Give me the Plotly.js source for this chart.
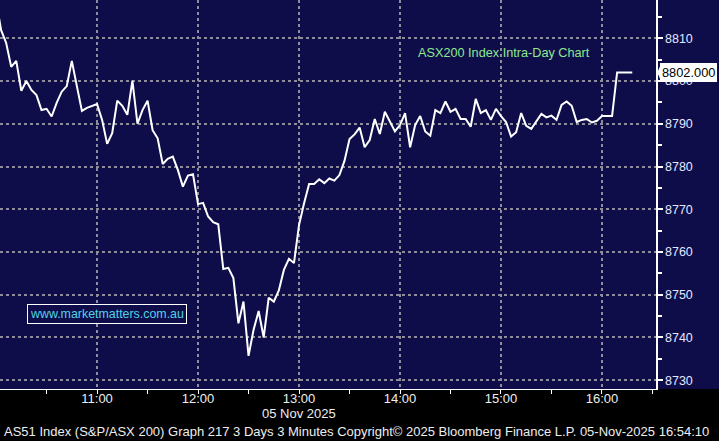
<!DOCTYPE html>
<html>
<head>
<meta charset="utf-8">
<script src="https://cdn.plot.ly/plotly-3.0.1.min.js"></script>
<style>html,body{margin:0;padding:0;background:#000;}#chart{width:719px;height:441px;}</style>
</head>
<body>
<div id="chart"></div>
<script>
// ASX200 3-minute intraday closes, 05 Nov 2025, starting 10:00
const startTime = '2025-11-05T10:00:00';
const stepMinutes = 3;
const closes = [
  8818.8, 8811.9, 8808.9, 8803.3, 8804.7, 8797.7, 8800.0, 8797.9, 8796.7, 8793.2,
  8793.5, 8791.7, 8794.9, 8797.5, 8798.8, 8804.7, 8798.8, 8793.0, 8793.7, 8794.2,
  8794.6, 8790.9, 8785.3, 8787.8, 8795.4, 8794.2, 8792.1, 8800.1, 8790.0, 8793.2,
  8795.4, 8788.5, 8786.6, 8780.6, 8781.8, 8782.3, 8779.2, 8775.3, 8777.9, 8778.2,
  8771.2, 8771.5, 8768.3, 8767.0, 8766.5, 8756.0, 8756.3, 8753.9, 8743.3, 8748.4,
  8735.7, 8741.8, 8746.2, 8740.0, 8749.3, 8748.4, 8751.0, 8755.8, 8758.4, 8757.4,
  8766.3, 8771.4, 8775.9, 8775.9, 8777.0, 8776.1, 8777.2, 8776.7, 8778.0, 8781.3,
  8786.4, 8787.5, 8789.1, 8784.5, 8786.2, 8791.1, 8787.6, 8792.8, 8790.5, 8788.2,
  8789.7, 8792.5, 8784.5, 8789.7, 8791.8, 8788.2, 8787.2, 8793.2, 8792.5, 8795.2,
  8792.8, 8793.5, 8791.1, 8791.1, 8789.3, 8795.8, 8792.5, 8793.2, 8790.9, 8793.5,
  8791.8, 8790.4, 8787.0, 8788.0, 8792.5, 8789.5, 8788.8, 8790.7, 8792.3, 8791.5,
  8791.9, 8790.9, 8794.4, 8795.2, 8794.2, 8790.4, 8790.9, 8791.1, 8790.3, 8790.7,
  8791.8, 8791.8, 8791.8, 8802.0, 8802.0, 8802.0, 8802.0
];
const lastValue = 8802.0;
const lastLabel = '8802.000';
const yTickVals = [8730, 8740, 8750, 8760, 8770, 8780, 8790, 8800, 8810];
const xTickVals = ['2025-11-05 11:00', '2025-11-05 12:00', '2025-11-05 13:00',
                   '2025-11-05 14:00', '2025-11-05 15:00', '2025-11-05 16:00'];
const xTickText = ['11:00', '12:00', '13:00', '14:00', '15:00', '16:00'];
const dateLabel = '05 Nov 2025';
const chartTitle = 'ASX200 Index Intra-Day Chart';
const siteLabel = 'www.marketmatters.com.au';
const footer = 'AS51 Index (S&P/ASX 200) Graph 217 3 Days 3 Minutes Copyright\u00A9 2025 Bloomberg Finance L.P. 05-Nov-2025 16:54:10';

function pad(n){ return (n < 10 ? '0' : '') + n; }
const t0 = new Date(startTime + 'Z').getTime();
const times = closes.map((_, i) => {
  const d = new Date(t0 + i * stepMinutes * 60000);
  return d.getUTCFullYear() + '-' + pad(d.getUTCMonth() + 1) + '-' + pad(d.getUTCDate()) + ' ' +
         pad(d.getUTCHours()) + ':' + pad(d.getUTCMinutes()) + ':00';
});

const NAVY = '#0e0d4a';
const yRange = [8727.95, 8818.95];
const lastPaperY = (lastValue - yRange[0]) / (yRange[1] - yRange[0]);
const FONT = 'Liberation Sans, Arial, sans-serif';

const trace = {
  x: times, y: closes, type: 'scatter', mode: 'lines',
  line: {color: '#ffffff', width: 2}, hoverinfo: 'skip'
};

const layout = {
  width: 719, height: 441,
  margin: {l: 0, r: 63, t: 0, b: 52, pad: 0},
  paper_bgcolor: '#000000',
  plot_bgcolor: NAVY,
  showlegend: false,
  font: {family: FONT, color: '#ffffff'},
  xaxis: {
    type: 'date',
    range: ['2025-11-05 10:02:20', '2025-11-05 16:32:06'],
    tickvals: xTickVals, ticktext: xTickText,
    ticks: 'outside', ticklen: 4, tickwidth: 1, tickcolor: '#ffffff',
    ticklabelstandoff: -7,
    minor: {dtick: 30 * 60 * 1000, ticks: 'outside', ticklen: 4, tickcolor: '#ffffff', showgrid: false},
    showgrid: true, gridcolor: '#8e8e9a', gridwidth: 2, griddash: 'dot',
    showline: true, linecolor: '#ffffff', linewidth: 1,
    tickfont: {family: FONT, size: 13, color: '#eeeeee'},
    zeroline: false, fixedrange: true
  },
  yaxis: {
    side: 'right', range: yRange,
    tickvals: yTickVals,
    ticks: 'outside', ticklen: 5, tickwidth: 2, tickcolor: '#ffffff',
    minor: {dtick: 5, ticks: 'outside', ticklen: 4, tickcolor: '#ffffff', showgrid: false},
    showgrid: true, gridcolor: '#8e8e9a', gridwidth: 2, griddash: 'dot',
    showline: true, linecolor: '#ffffff', linewidth: 1.5,
    tickfont: {family: FONT, size: 12.5, color: '#e2e8ff'},
    zeroline: false, fixedrange: true
  },
  shapes: [
    {type: 'rect', xref: 'paper', yref: 'paper', x0: 1, x1: 1.2, y0: 0, y1: 1,
     fillcolor: NAVY, line: {width: 0}, layer: 'below'},
    {type: 'path', xref: 'paper', yref: 'paper',
     path: 'M 1.0020,' + lastPaperY + ' L 1.0080,' + (lastPaperY + 0.023) + ' L 1.0080,' + (lastPaperY - 0.023) + ' Z',
     fillcolor: '#ffffff', line: {width: 0}, layer: 'above'}
  ],
  annotations: [
    {xref: 'paper', yref: 'paper', x: 1, y: lastPaperY, xanchor: 'left', yanchor: 'middle',
     xshift: 4, text: lastLabel, showarrow: false, bgcolor: '#ffffff', bordercolor: '#ffffff',
     borderpad: 1, font: {family: FONT, size: 12.8, color: '#000000'}},
    {xref: 'paper', yref: 'paper', x: 503.8 / 656, y: 1 - 53.3 / 389, xanchor: 'center', yanchor: 'middle',
     text: chartTitle, showarrow: false, font: {family: FONT, size: 12.7, color: '#8ee88e'}},
    {xref: 'paper', yref: 'paper', x: 107 / 656, y: 1 - 313.5 / 389, xanchor: 'center', yanchor: 'middle',
     text: siteLabel, showarrow: false, bgcolor: NAVY, bordercolor: '#ffffff', borderwidth: 1,
     borderpad: 2, font: {family: FONT, size: 12.4, color: '#52d2e4'}},
    {xref: 'x', yref: 'paper', x: '2025-11-05 13:00', y: (389 - 413.5) / 389, xanchor: 'center', yanchor: 'middle',
     text: dateLabel, showarrow: false, font: {family: FONT, size: 13, color: '#eeeeee'}},
    {xref: 'paper', yref: 'paper', x: 2 / 656, y: (389 - 431.5) / 389, xanchor: 'left', yanchor: 'middle',
     text: footer, showarrow: false, font: {family: FONT, size: 13, color: '#eeeeee'}}
  ]
};

Plotly.newPlot('chart', [trace], layout, {staticPlot: true, displayModeBar: false});
</script>
</body>
</html>
